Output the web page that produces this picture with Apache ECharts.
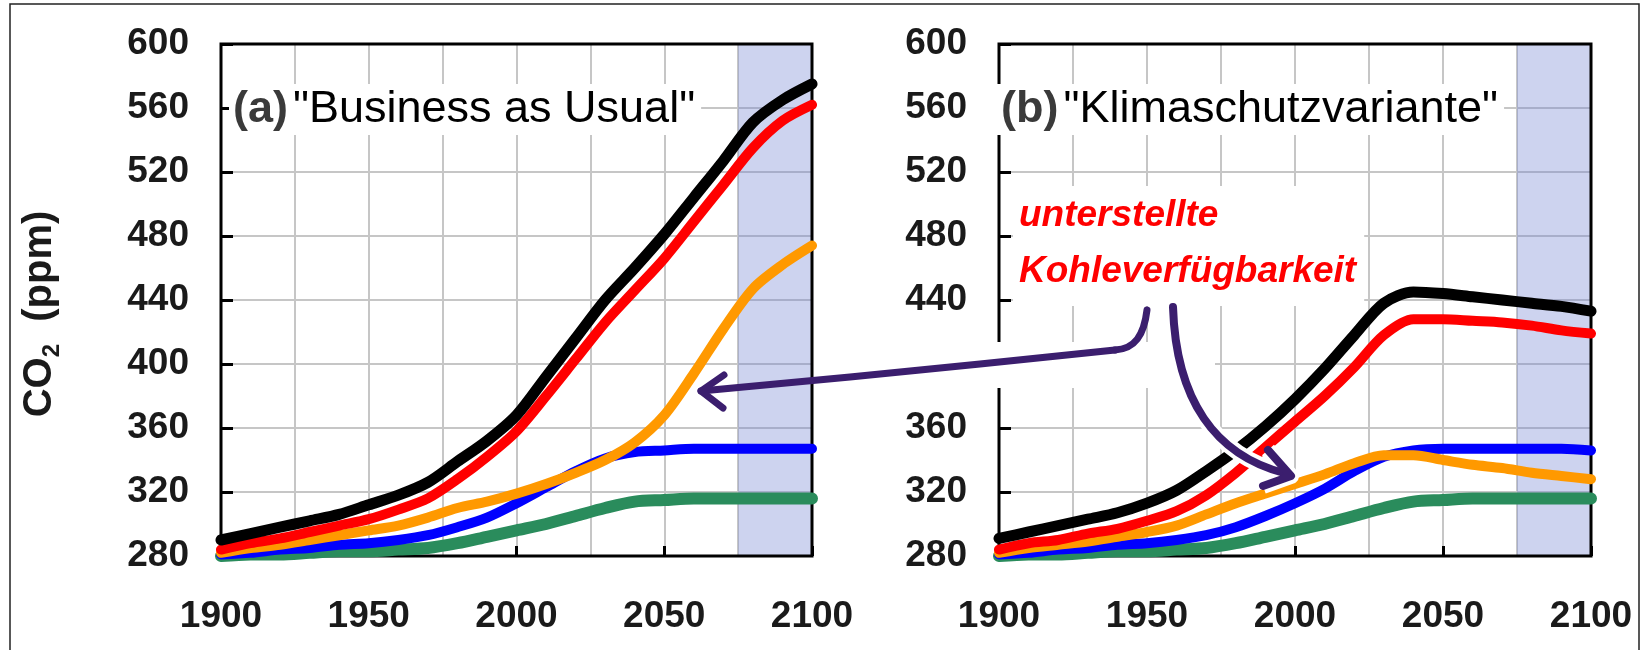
<!DOCTYPE html>
<html style="height: 100%">
<head>
    <meta charset="utf-8">
</head>
<body style="height: 100%; margin: 0; background: #fff">
<div id="container" style="width: 1646px; height: 650px"></div>
<script type="text/javascript" src="https://cdn.jsdelivr.net/npm/echarts@6/dist/echarts.min.js"></script>
<script type="text/javascript">
    // Jahre (x) und CO2-Werte in ppm
    var years = [1900, 1910, 1920, 1930, 1940, 1950, 1960, 1970, 1980, 1990, 2000,
                 2010, 2020, 2030, 2040, 2050, 2060, 2070, 2080, 2090, 2100];
    var xTicks = [1900, 1950, 2000, 2050, 2100];
    var yTicks = [280, 320, 360, 400, 440, 480, 520, 560, 600];

    // (a) "Business as Usual"
    var bauBlack  = [290, 294, 298, 302, 306, 312, 318, 326, 339, 352, 368, 392, 416, 440, 460, 481, 504, 527, 551, 565, 575];
    var bauRed    = [284, 288, 291, 295, 299, 303, 309, 316, 328, 342, 358, 380, 403, 426, 446, 466, 489, 512, 535, 552, 562];
    var bauOrange = [282, 285, 287, 290, 293, 296, 299, 304, 310, 314, 319, 325, 332, 340, 351, 368, 394, 422, 447, 462, 474];
    var bauBlue   = [281, 282, 284, 285, 287, 288, 290, 293, 298, 304, 313, 323, 333, 341, 345, 346, 347, 347, 347, 347, 347];
    var bauGreen  = [280, 281, 281, 282, 283, 283, 284, 285, 288, 292, 296, 300, 305, 310, 314, 315, 316, 316, 316, 316, 316];

    // (b) "Klimaschutzvariante"
    var ksBlack  = [291, 295, 299, 303, 307, 313, 321, 333, 346, 361, 378, 397, 418, 438, 445, 444, 442, 440, 438, 436, 433];
    var ksRed    = [284, 288, 290, 294, 297, 302, 308, 318, 332, 348, 364, 380, 398, 418, 428, 428, 427, 426, 424, 421, 419];
    var ksOrange = [282, 285, 287, 289, 292, 295, 299, 306, 313, 319, 325, 331, 338, 343, 343, 340, 337, 335, 332, 330, 328];
    var ksBlue   = [281, 282, 284, 285, 287, 288, 290, 293, 298, 305, 313, 322, 333, 342, 346, 347, 347, 347, 347, 347, 346];
    var ksGreen  = [280, 281, 281, 282, 283, 283, 284, 285, 288, 292, 296, 300, 305, 310, 314, 315, 316, 316, 316, 316, 316];

    var shadeFrom = 2075, shadeTo = 2100;

    var dom = document.getElementById("container");
    var myChart = echarts.init(dom);

    var gridA = {left: 221, top: 44, width: 591, height: 512};
    var gridB = {left: 999, top: 44, width: 592, height: 512};
    var gridColor = '#c6c6c6';
    var labelFont = {fontSize: 37, fontWeight: 'bold', color: '#1a1a1a', fontFamily: 'Liberation Sans, Arial, sans-serif'};

    function pairs(vals) {
        return years.map(function (y, i) { return [y, vals[i]]; });
    }

    function xAxis(idx) {
        return {
            type: 'value', gridIndex: idx, min: xTicks[0], max: xTicks[xTicks.length - 1], interval: 50,
            axisLine: {show: false},
            axisTick: {show: true, inside: true, length: 10, lineStyle: {color: '#000', width: 3}},
            minorTick: {show: false, splitNumber: 2},
            splitLine: {show: true, lineStyle: {color: gridColor, width: 2}},
            minorSplitLine: {show: true, lineStyle: {color: gridColor, width: 2}},
            axisLabel: Object.assign({margin: 42, formatter: function (v) { return String(v); }}, labelFont)
        };
    }

    function yAxis(idx) {
        return {
            type: 'value', gridIndex: idx, min: yTicks[0], max: yTicks[yTicks.length - 1], interval: 40,
            axisLine: {show: false},
            axisTick: {show: true, inside: true, length: 12, lineStyle: {color: '#000', width: 3}},
            splitLine: {show: true, lineStyle: {color: gridColor, width: 2}},
            axisLabel: Object.assign({margin: 32}, labelFont)
        };
    }

    function line(name, data, color, width, idx, withShade) {
        var s = {
            name: name, type: 'line', xAxisIndex: idx, yAxisIndex: idx,
            data: pairs(data), showSymbol: false, smooth: 0.3,
            lineStyle: {color: color, width: width, cap: 'round', join: 'round'},
            itemStyle: {color: color}, silent: true
        };
        if (withShade) {
            s.markArea = {
                silent: true,
                itemStyle: {color: 'rgba(112,129,209,0.35)'},
                data: [[{xAxis: shadeFrom}, {xAxis: shadeTo}]]
            };
        }
        return s;
    }

    var purple = '#3b1e6e';
    var titleRich = {
        a: {fontSize: 45, fontWeight: 'bold', color: '#3a3a3a', fontFamily: 'Liberation Sans, Arial'},
        t: {fontSize: 45, fontWeight: 'normal', color: '#000', fontFamily: 'Liberation Sans, Arial'}
    };

    option = {
        backgroundColor: '#fff',
        animation: false,
        grid: [gridA, gridB],
        xAxis: [xAxis(0), xAxis(1)],
        yAxis: [yAxis(0), yAxis(1)],
        title: [
            {
                left: 229, top: 84, padding: [3, 6, 3, 4], backgroundColor: '#fff',
                text: '{a|(a)} {t|"Business as Usual"}',
                textStyle: {rich: titleRich}
            },
            {
                left: 997, top: 84, padding: [3, 6, 3, 4], backgroundColor: '#fff',
                text: '{a|(b)} {t|"Klimaschutzvariante"}',
                textStyle: {rich: titleRich}
            },
            {
                left: 1013, top: 186, padding: [2, 8, 6, 6], backgroundColor: '#fff',
                text: 'unterstellte\nKohleverfügbarkeit',
                textStyle: {fontSize: 37, fontWeight: 'bold', fontStyle: 'italic', color: '#ff0000',
                            lineHeight: 56, fontFamily: 'Liberation Sans, Arial'}
            }
        ],
        series: [
            line('grün', bauGreen, '#2a8c5c', 12, 0, true),
            line('blau', bauBlue, '#0000ff', 10, 0),
            line('orange', bauOrange, '#ff9900', 10, 0),
            line('rot', bauRed, '#ff0000', 10, 0),
            line('schwarz', bauBlack, '#000000', 11, 0),
            line('grün', ksGreen, '#2a8c5c', 12, 1, true),
            line('blau', ksBlue, '#0000ff', 10, 1),
            line('orange', ksOrange, '#ff9900', 10, 1),
            line('rot', ksRed, '#ff0000', 10, 1),
            line('schwarz', ksBlack, '#000000', 11, 1)
        ],
        graphic: [
            // äußerer Rahmen
            {type: 'rect', z: 1, shape: {x: 10, y: 4, width: 1629, height: 700},
             style: {fill: 'none', stroke: '#222', lineWidth: 1.5}},
            // Diagrammrahmen
            {type: 'rect', z: 3, shape: {x: gridA.left, y: gridA.top, width: gridA.width, height: gridA.height},
             style: {fill: 'none', stroke: '#000', lineWidth: 3}},
            {type: 'rect', z: 3, shape: {x: gridB.left, y: gridB.top, width: gridB.width, height: gridB.height},
             style: {fill: 'none', stroke: '#000', lineWidth: 3}},
            // Achsentitel
            {type: 'text', z: 5, x: 40, y: 314, rotation: Math.PI / 2,
             style: {text: '{a|CO}{s|2}{a|  (ppm)}', align: 'center', verticalAlign: 'middle',
                     rich: {
                         a: {fontSize: 40, fontWeight: 'bold', fill: '#1a1a1a', lineHeight: 48, verticalAlign: 'middle', fontFamily: 'Liberation Sans, Arial'},
                         s: {fontSize: 24, fontWeight: 'bold', fill: '#1a1a1a', lineHeight: 24, verticalAlign: 'bottom', fontFamily: 'Liberation Sans, Arial'}
                     }}},
            // weiße Abdeckung über "400" rechts
            {type: 'rect', z: 20, shape: {x: 880, y: 342, width: 335, height: 46},
             style: {fill: '#fff'}},
            // Pfeil 1
            {type: 'bezierCurve', z: 22, shape: {x1: 1147, y1: 310, cpx1: 1144, cpy1: 335, cpx2: 1135, cpy2: 349, x2: 1115, y2: 350},
             style: {stroke: purple, lineWidth: 7, fill: 'none', lineCap: 'round'}},
            {type: 'polyline', z: 22, shape: {points: [[1115, 350], [980, 364], [850, 377], [701, 391]]},
             style: {stroke: purple, lineWidth: 7, fill: 'none', lineCap: 'round', lineJoin: 'round'}},
            {type: 'polyline', z: 22, shape: {points: [[724, 375], [701, 391], [723, 408]]},
             style: {stroke: purple, lineWidth: 7, fill: 'none', lineCap: 'round', lineJoin: 'round'}},
            // Pfeil 2: weißer Saum + Linie
            {type: 'bezierCurve', z: 21, shape: {x1: 1173, y1: 307, cpx1: 1176, cpy1: 400, cpx2: 1215, cpy2: 455, x2: 1284, y2: 473},
             style: {stroke: '#fff', lineWidth: 16, fill: 'none'}},
            {type: 'polyline', z: 21, shape: {points: [[1268, 450], [1291, 476], [1263, 486]]},
             style: {stroke: '#fff', lineWidth: 16, fill: 'none', lineJoin: 'round'}},
            {type: 'bezierCurve', z: 22, shape: {x1: 1173, y1: 307, cpx1: 1176, cpy1: 400, cpx2: 1215, cpy2: 455, x2: 1284, y2: 473},
             style: {stroke: purple, lineWidth: 8, fill: 'none', lineCap: 'round'}},
            {type: 'polyline', z: 22, shape: {points: [[1268, 450], [1291, 476], [1263, 486]]},
             style: {stroke: purple, lineWidth: 8, fill: 'none', lineCap: 'round', lineJoin: 'round'}}
        ]
    };

    if (option && typeof option === "object") {
        myChart.setOption(option, true);
    }
</script>
</body>
</html>
